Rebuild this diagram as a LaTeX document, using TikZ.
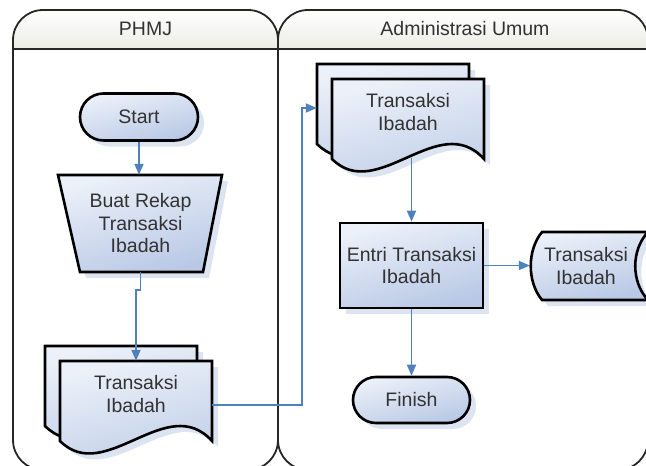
\documentclass[tikz,border=0pt]{standalone}
\usepackage{fontspec}
\setmainfont{Liberation Sans}
\usetikzlibrary{shapes.misc,shadows,arrows.meta,calc}
\definecolor{arrowblue}{RGB}{79,129,189}
\definecolor{shlight}{RGB}{236,241,249}
\definecolor{shdark}{RGB}{184,200,229}
\definecolor{shadowc}{RGB}{214,222,238}
\definecolor{txt}{RGB}{50,50,50}
\definecolor{hdrbot}{RGB}{236,236,230}
\tikzset{
 shp/.style={draw=black, line width=2.6pt, top color=shlight, bottom color=shdark, shading angle=15,
   drop shadow={shadow xshift=6pt, shadow yshift=-6pt, fill=shadowc, opacity=0.85}},
 lbl/.style={align=center, inner sep=0pt},
 arr/.style={draw=arrowblue, line width=1.8pt, -{Triangle[length=11pt,width=9pt]}},
 lane/.style={draw=black!85, line width=1.8pt, rounded corners=30pt},
}
\newcommand\docsheet[2]{\begin{scope}[shift={(#1,#2)}]\path[shp] (0,0) -- (152,0) -- (152,80) .. controls (107,30) and (45,125) .. (0,80) -- cycle;\end{scope}}
\begin{document}
\begin{tikzpicture}[x=1pt,y=-1pt,font=\fontsize{19.5}{22.5}\selectfont,text=txt]
\useasboundingbox (0,0) rectangle (646,466);
% lanes
\begin{scope}
\clip[rounded corners=30pt] (13,10) rectangle (278,470);
\shade[top color=white, bottom color=hdrbot] (13,10) rectangle (278,49);
\end{scope}
\begin{scope}
\clip[rounded corners=30pt] (278,10) rectangle (648,470);
\shade[top color=white, bottom color=hdrbot] (278,10) rectangle (648,49);
\end{scope}
\draw[lane] (13,10) rectangle (278,470);
\draw[lane] (278,10) rectangle (648,470);
\draw[line width=1.8pt, black!85] (13,49) -- (648,49);
\node[lbl] (h1) at (145.5,29) {PHMJ};
\node[lbl] (h2) at (465,29) {Administrasi Umum};
% shapes drawn as paths
\path[shp] (58,175) -- (222,175) -- (203,272) -- (80,272) -- cycle;
\docsheet{45}{346}\docsheet{60}{361}
\docsheet{317}{64}\docsheet{332}{79}
\path[shp] (542,232) -- (648,232) .. controls (631,250) and (631,282) .. (648,300) -- (542,300) .. controls (527,282) and (527,250) .. (542,232) -- cycle;
% nodes
\node[shp, rounded rectangle, minimum width=118pt, minimum height=47pt, lbl] (start) at (139,117) {Start};
\node[lbl, minimum width=145pt, minimum height=97pt] (buat) at (140.5,223.5) {Buat Rekap\\Transaksi\\Ibadah};
\node[lbl, minimum width=152pt, minimum height=66pt] (doc1) at (136,394) {Transaksi\\Ibadah};
\node[lbl, minimum width=152pt, minimum height=80pt] (doc2b) at (393,104) {};
\node[lbl, minimum width=152pt, minimum height=66pt] (doc2) at (408,112) {Transaksi\\Ibadah};
\node[shp, rectangle, minimum width=143pt, minimum height=85pt, lbl] (entri) at (411.5,265.5) {Entri Transaksi\\Ibadah};
\node[lbl, minimum width=112pt, minimum height=68pt] (stor) at (586,266) {Transaksi\\Ibadah};
\node[shp, rounded rectangle, minimum width=117pt, minimum height=46pt, lbl] (finish) at (411.5,400) {Finish};
% connectors
\coordinate (d2o) at ($(doc2.south -| entri.north)+(0,13)$);
\draw[arr] (start.south) -- (start.south |- buat.north);
\draw[arr] (buat.south) -- ++(0,18) -| (doc1.north);
\draw[arr] ([yshift=-11pt]doc1.east) -- ++(90,0) |- ([yshift=-4pt]doc2b.west);
\draw[arr] (d2o) -- (entri.north);
\draw[arr] (entri.east) -- (entri.east -| stor.west);
\draw[arr] (entri.south) -- (finish.north);
\end{tikzpicture}
\end{document}
